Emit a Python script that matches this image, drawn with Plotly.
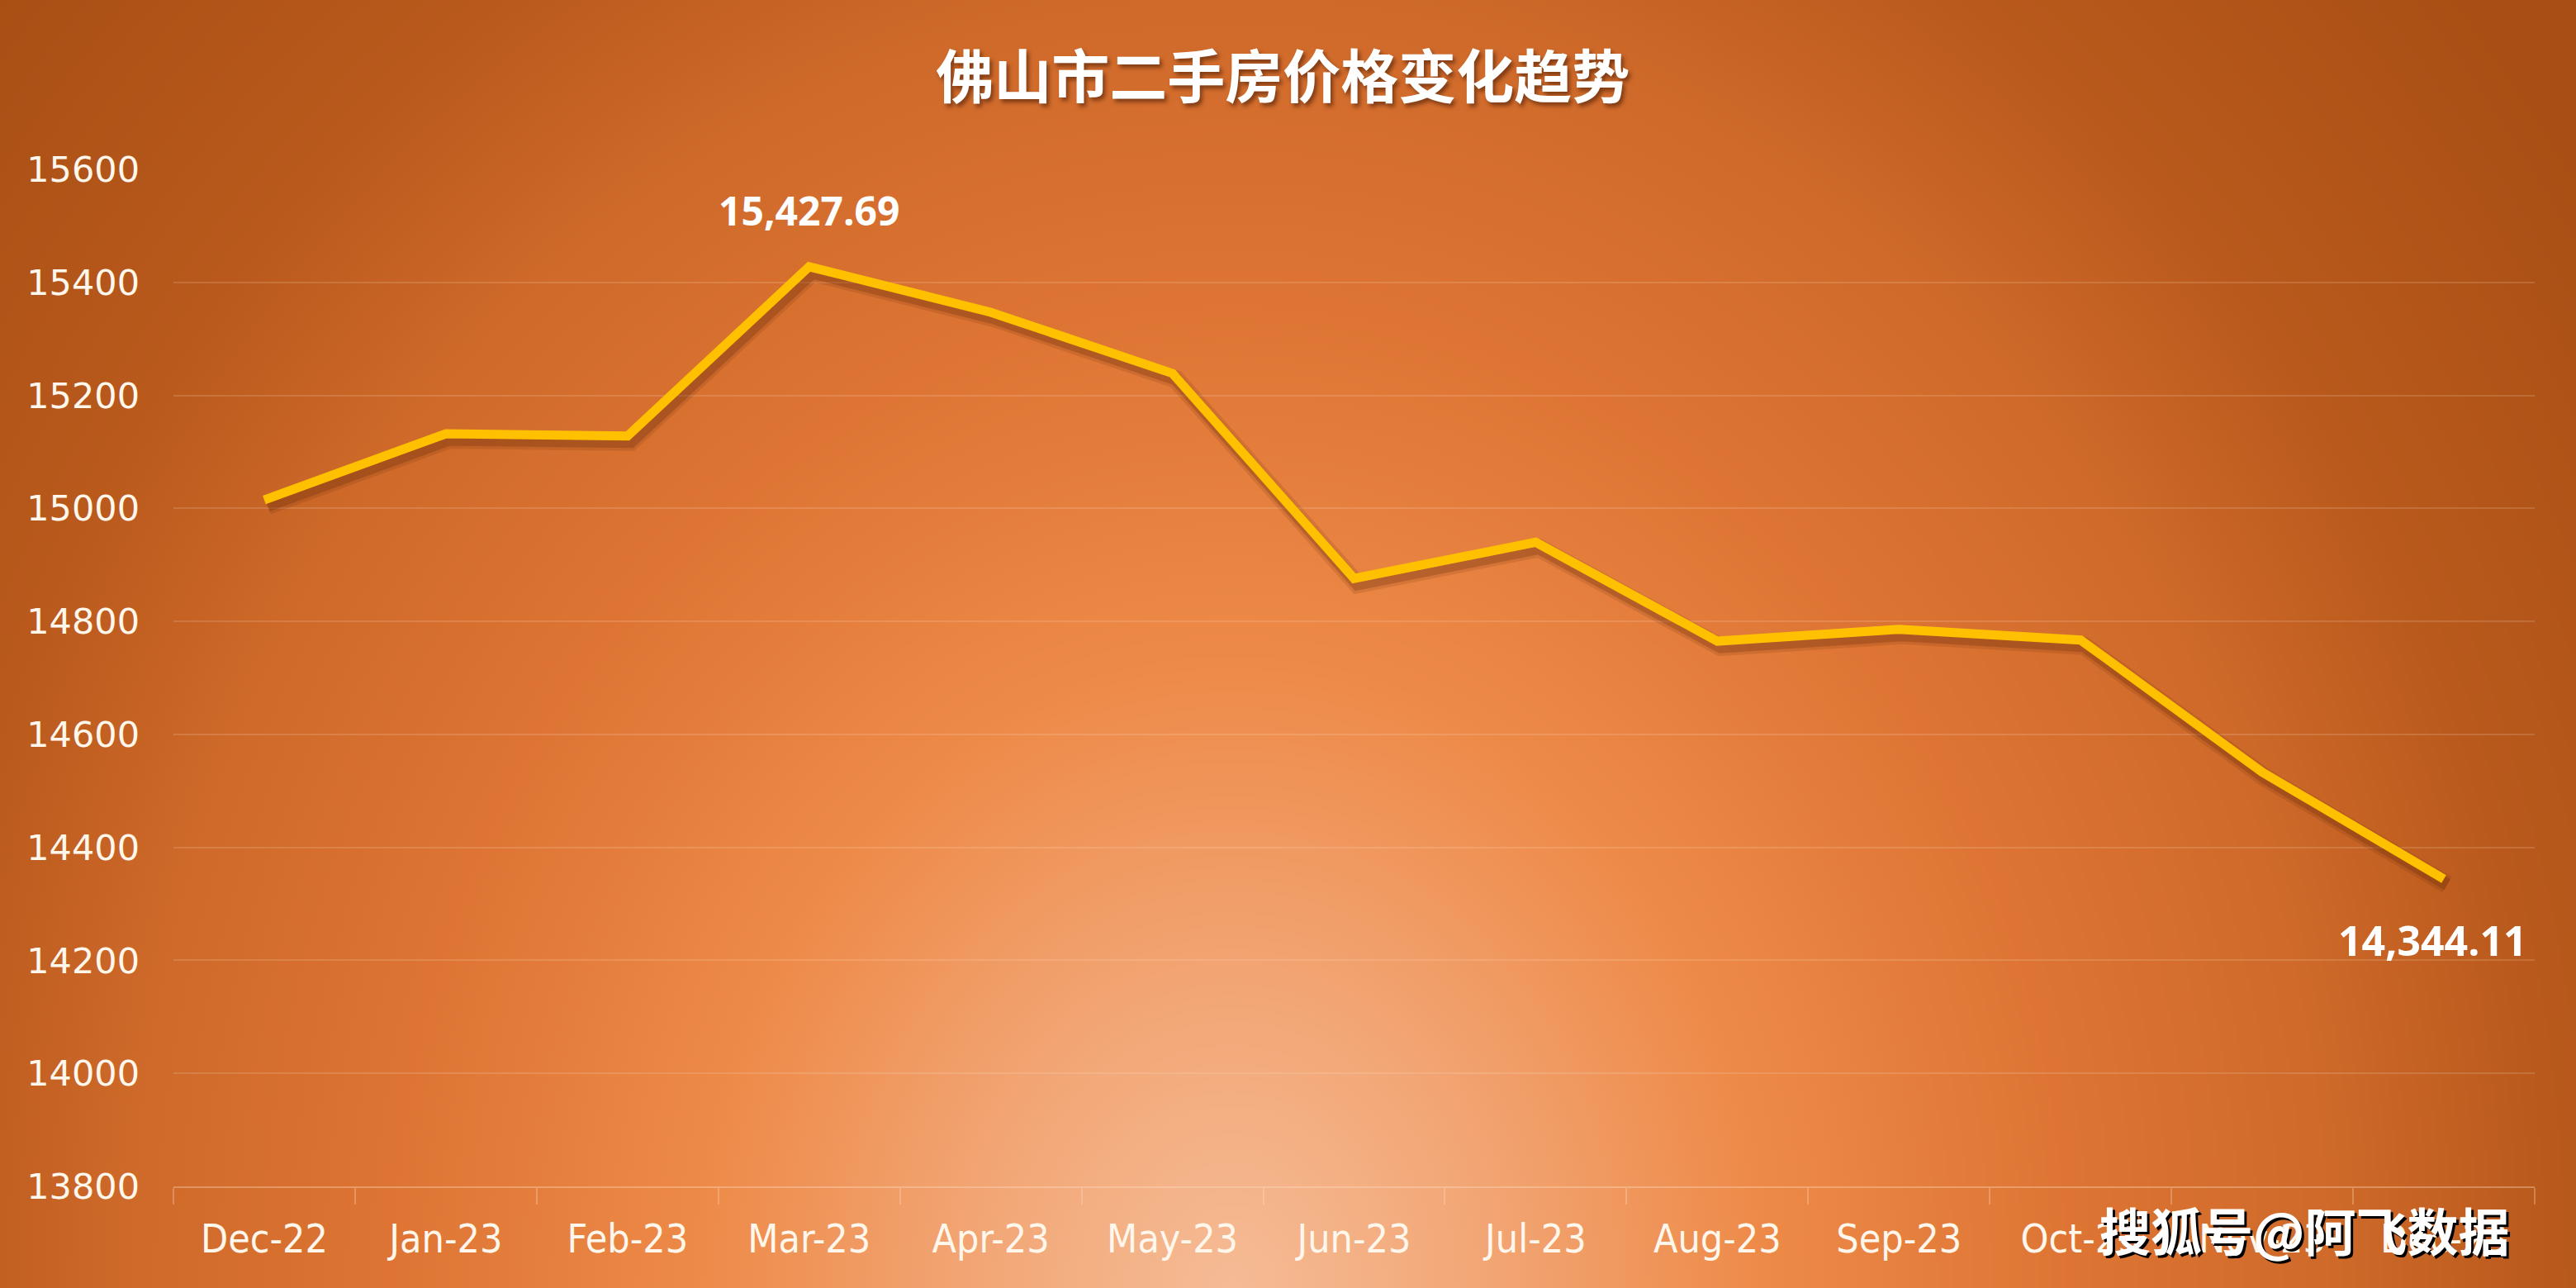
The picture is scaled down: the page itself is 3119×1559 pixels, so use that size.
import base64
import struct
import zlib

import numpy as np
import plotly.graph_objects as go

# ---------------- data ----------------
months = ["Dec-22", "Jan-23", "Feb-23", "Mar-23", "Apr-23", "May-23", "Jun-23",
          "Jul-23", "Aug-23", "Sep-23", "Oct-23", "Nov-23", "Dec-23"]
prices = [15015, 15132, 15128, 15427.69, 15347, 15239, 14876,
          14940, 14765, 14786, 14767, 14533, 14344.11]
y_ticks = [13800, 14000, 14200, 14400, 14600, 14800, 15000, 15200, 15400, 15600]
title_text = "佛山市二手房价格变化趋势"
watermark_text = "搜狐号@阿飞数据"

# ---------------- geometry ----------------
W, H = 3119, 1559
ML, MR, MT, MB = 210, 50, 205, 123
PW, PH = W - ML - MR, H - MT - MB
y_lo, y_hi = y_ticks[0], y_ticks[-1]

# ---------------- background gradient (decoration) ----------------
def png_bytes(arr):
    h, w, _ = arr.shape
    raw = b"".join(b"\x00" + arr[i].tobytes() for i in range(h))

    def chunk(tag, data):
        c = struct.pack(">I", len(data)) + tag + data
        return c + struct.pack(">I", zlib.crc32(tag + data) & 0xFFFFFFFF)

    return (b"\x89PNG\r\n\x1a\n"
            + chunk(b"IHDR", struct.pack(">IIBBBBB", w, h, 8, 2, 0, 0, 0))
            + chunk(b"IDAT", zlib.compress(raw, 9))
            + chunk(b"IEND", b""))

gw, gh = 780, 390
xs = (np.arange(gw) + 0.5) * W / gw
ys = (np.arange(gh) + 0.5) * H / gh
X, Y = np.meshgrid(xs, ys)
cx, cy, rx, ry = 1490.0, 1559.0, 1450.0, 1700.0
R = np.sqrt(((X - cx) / rx) ** 2 + ((Y - cy) / ry) ** 2)
stops = [0.0, 0.2, 0.45, 0.7, 0.92, 1.1, 1.4]
cols = np.array([[246, 188, 150], [243, 168, 120], [238, 138, 72], [222, 117, 52],
                 [207, 106, 42], [186, 90, 29], [168, 79, 21]], dtype=float)
img = np.zeros((gh, gw, 3), dtype=np.uint8)
for c in range(3):
    img[:, :, c] = np.clip(np.interp(R, stops, cols[:, c]), 0, 255).astype(np.uint8)
bg_src = "data:image/png;base64," + base64.b64encode(png_bytes(img)).decode()

# ---------------- figure ----------------
fig = go.Figure()

# shadow of the line (on hidden, slightly shifted axes x/y)
for wdt, col in [(22, "rgba(95,38,6,0.14)"), (15, "rgba(95,38,6,0.26)")]:
    fig.add_trace(go.Scatter(x=months, y=prices, mode="lines", xaxis="x", yaxis="y",
                             line=dict(color=col, width=wdt), hoverinfo="skip",
                             showlegend=False))

# main line (on visible axes x2/y2)
fig.add_trace(go.Scatter(x=months, y=prices, mode="lines", xaxis="x2", yaxis="y2",
                         line=dict(color="#FFC000", width=11), showlegend=False,
                         name="价格"))

sx = 4.0 / (PW / len(months))
sy = 7.0 / (PH / (y_hi - y_lo))

grid_col = "rgba(255,235,215,0.16)"
fig.update_layout(
    width=W, height=H,
    margin=dict(l=ML, r=MR, t=MT, b=MB),
    paper_bgcolor="#B85A1E",
    plot_bgcolor="rgba(0,0,0,0)",
    showlegend=False,
    xaxis=dict(type="category", categoryorder="array", categoryarray=months,
               range=[-0.5 - sx, len(months) - 0.5 - sx], visible=False),
    yaxis=dict(range=[y_lo + sy, y_hi + sy], visible=False),
    xaxis2=dict(type="category", categoryorder="array", categoryarray=months,
                overlaying="x", range=[-0.5, len(months) - 0.5],
                showgrid=False, showline=True, linecolor="rgba(255,225,200,0.35)",
                linewidth=2, ticks="outside", tickson="boundaries", ticklen=20,
                tickwidth=2, tickcolor="rgba(255,225,200,0.30)",
                ticklabelstandoff=20,
                tickfont=dict(family="DejaVu Sans Condensed, DejaVu Sans", size=48,
                              color="#FFF7EC"),
                anchor="y2", zeroline=False),
    yaxis2=dict(overlaying="y", range=[y_lo, y_hi], tickvals=y_ticks,
                tickformat="d", showgrid=True, gridcolor=grid_col, gridwidth=2,
                zeroline=False, showline=False, ticks="", ticklabelstandoff=40,
                tickfont=dict(family="DejaVu Sans", size=43, color="#FFF7EC"),
                anchor="x2"),
    title=dict(text="<b>" + title_text + "</b>", x=0.498, xanchor="center",
               y=1 - 94 / H, yanchor="middle", yref="container",
               font=dict(family="Noto Sans CJK SC", size=70, color="#FFFFFF",
                         shadow="3px 4px 5px rgba(60,20,0,0.55)")),
    images=[dict(source=bg_src, xref="paper", yref="paper",
                 x=-ML / PW, y=1 + MT / PH, sizex=W / PW, sizey=H / PH,
                 xanchor="left", yanchor="top", sizing="stretch", layer="below")],
)

# data labels for max and min
i_max = int(np.argmax(prices))
i_min = int(np.argmin(prices))
label_font = dict(family="Open Sans", size=48, color="#FFFFFF")
fig.add_annotation(x=months[i_max], y=prices[i_max], xref="x2", yref="y2",
                   text="<b>" + f"{prices[i_max]:,.2f}" + "</b>", showarrow=False,
                   yshift=68, font=label_font)
fig.add_annotation(x=months[i_min], y=prices[i_min], xref="x2", yref="y2",
                   text="<b>" + f"{prices[i_min]:,.2f}" + "</b>", showarrow=False,
                   yshift=-74, xshift=-14, font=dict(family="Open Sans", size=50,
                                                     color="#FFFFFF"))

# watermark
fig.add_annotation(x=(2790 - ML) / PW, y=1 - (1488 - MT) / PH, xref="paper", yref="paper",
                   text="<b>" + watermark_text + "</b>", showarrow=False,
                   xanchor="center", yanchor="middle",
                   font=dict(family="Noto Sans CJK SC", size=62, color="#FFFFFF",
                             shadow="3px 3px 0px #000000"))

fig.write_html("out.html", config={"displayModeBar": False},
               post_script="document.body.style.margin='0';document.body.style.overflow='hidden';")
